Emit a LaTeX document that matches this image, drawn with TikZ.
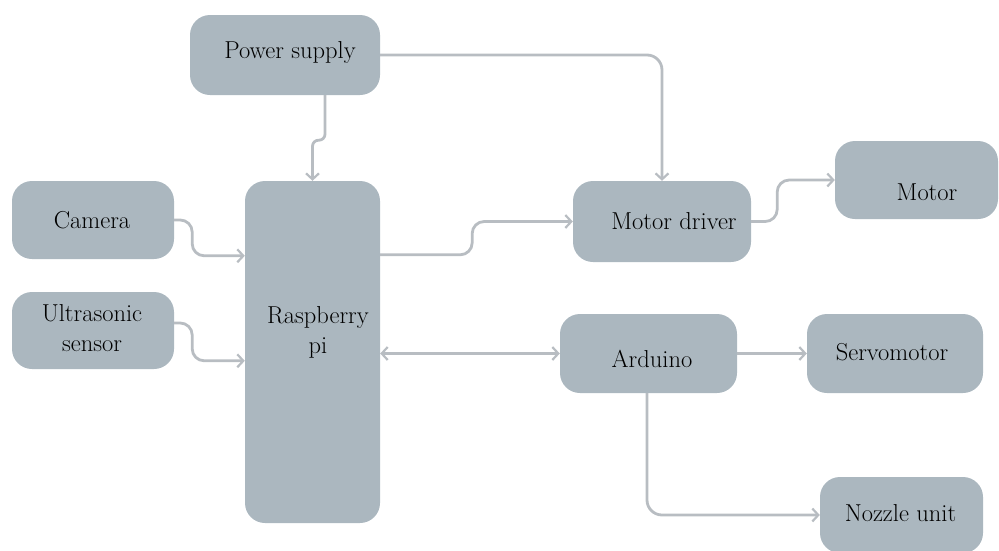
\documentclass[tikz,border=0pt]{standalone}
\usetikzlibrary{arrows.meta,calc}
\definecolor{boxfill}{RGB}{171,183,191}
\definecolor{linegray}{RGB}{184,189,194}
\tikzset{
  box/.style={fill=boxfill, rounded corners=20pt, inner sep=0pt},
  txt/.style={font=\rmfamily\fontsize{24.5}{30}\selectfont, align=center, inner sep=0pt, text=black},
  tip/.tip={Straight Barb[length=6pt,width=13pt,line width=2.2pt]},
  conn/.style={draw=linegray, line width=2.8pt, -tip},
  bconn/.style={draw=linegray, line width=2.8pt, tip-tip}
}
\begin{document}
\begin{tikzpicture}[x=1pt,y=-1pt]
\useasboundingbox (0,0) rectangle (999,550);
% boxes
\node[box, minimum width=190pt, minimum height=80pt] (ps) at (285,55) {};
\node[box, minimum width=162pt, minimum height=78pt] (cam) at (93,220) {};
\node[box, minimum width=162pt, minimum height=77pt] (us) at (93,330.5) {};
\node[box, minimum width=135pt, minimum height=342pt] (rpi) at (312.5,352) {};
\node[box, minimum width=178pt, minimum height=81pt] (md) at (662,221.5) {};
\node[box, minimum width=163pt, minimum height=78pt] (mot) at (916.5,180) {};
\node[box, minimum width=177pt, minimum height=79pt] (ard) at (648.5,353.5) {};
\node[box, minimum width=176pt, minimum height=79pt] (servo) at (895,353.5) {};
\node[box, minimum width=163pt, minimum height=76pt] (noz) at (901.5,515) {};
% texts
\node[txt] (tps) at (290,52) {Power supply};
\node[txt] (tcam) at (92,220) {Camera};
\node[txt] (tus) at (92,328) {Ultrasonic\\sensor};
\node[txt] (trpi) at (318,332) {Raspberry\\pi};
\node[txt] (tmd) at (674,221) {Motor driver};
\node[txt] (tmot) at (927,192) {Motor};
\node[txt] (tard) at (652,359) {Arduino};
\node[txt] (tservo) at (892,352) {Servomotor};
\node[txt] (tnoz) at (900.5,513) {Nozzle unit};
% connectors
\draw[conn, rounded corners=6pt] ([xshift=40pt]ps.south) -- ++(0,45) -| (rpi.north);
\draw[conn, rounded corners=15pt] (ps.east) -| (md.north);
\draw[conn, rounded corners=12pt] (cam.east) -- ++(18,0) |- ([yshift=-75pt]rpi.north west);
\draw[conn, rounded corners=12pt] ([yshift=7.5pt]us.east) -- ++(18,0) |- ([yshift=-180pt]rpi.north west);
\draw[conn, rounded corners=12pt] ([yshift=-74pt]rpi.north east) -- ++(92,0) |- (md.west);
\draw[bconn] (rpi.east |- ard.west) -- (ard.west);
\draw[conn, rounded corners=12pt] (md.east) -- ++(26,0) |- (mot.west);
\draw[conn] (ard.east) -- (servo.west);
\draw[conn, rounded corners=15pt] ([xshift=-1.5pt]ard.south) |- (noz.west);
\end{tikzpicture}
\end{document}
